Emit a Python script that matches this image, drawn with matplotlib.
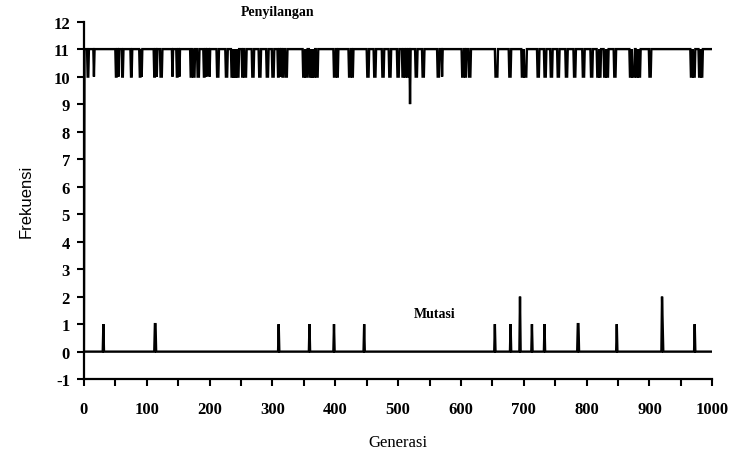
import numpy as np
import matplotlib
matplotlib.use("Agg")
import matplotlib.pyplot as plt
from matplotlib.ticker import MultipleLocator

plt.rcParams["axes.unicode_minus"] = False

# generations where crossover frequency dropped to 10 (start, end inclusive)
cx_dip_start = [6, 16, 51, 55, 61, 75, 89, 92, 112, 116, 122, 141, 148, 152, 170, 174,
                181, 191, 195, 200, 212, 226, 235, 238, 241, 244, 252, 256, 268, 279,
                291, 300, 309, 313, 316, 321, 349, 353, 359, 363, 366, 370, 398, 403,
                422, 427, 451, 462, 475, 486, 499, 507, 511, 515, 528, 539, 563, 570,
                602, 607, 613, 655, 677, 697, 701, 722, 733, 743, 754, 767, 780, 794,
                807, 817, 821, 828, 832, 844, 869, 873, 879, 883, 900, 966, 970, 979,
                983]
cx_dip_end = [7, 16, 52, 55, 62, 76, 90, 92, 113, 116, 124, 141, 149, 152, 171, 176,
              183, 192, 195, 200, 214, 228, 236, 239, 242, 246, 253, 258, 270, 281,
              293, 302, 310, 313, 317, 323, 351, 355, 361, 364, 367, 372, 400, 404,
              424, 428, 453, 464, 477, 488, 501, 508, 512, 516, 530, 541, 565, 570,
              604, 608, 615, 658, 679, 699, 704, 724, 735, 745, 756, 769, 782, 796,
              809, 819, 822, 830, 834, 846, 871, 876, 881, 885, 902, 968, 972, 981,
              984]
cx_deep_gen = [519]   # the one drop to 9

# mutation events
mut_gen = [31, 113, 114, 310, 359, 398, 446, 654, 679, 694, 713, 733, 786, 787,
           848, 920, 921, 972]
mut_val = [1, 1, 1, 1, 1, 1, 1, 1, 1, 2, 1, 1, 1, 1, 1, 2, 1, 1]

n_gen = 1000
gens = np.arange(0, n_gen + 1)

crossover = np.full(gens.size, 11)
crossover[0] = 0
for s, e in zip(cx_dip_start, cx_dip_end):
    crossover[s:e + 1] = 10
for g in cx_deep_gen:
    crossover[g] = 9

mutation = np.zeros(gens.size)
mutation[mut_gen] = mut_val

serif = "Liberation Serif"

fig = plt.figure(figsize=(7.49, 4.52), dpi=100)
ax = fig.add_axes([0.112, 0.159, 0.839, 0.791])

ax.plot(gens, crossover, color="black", lw=1.7, solid_joinstyle="miter")
ax.plot(gens, mutation, color="black", lw=1.7, solid_joinstyle="miter")

ax.set_xlim(0, n_gen)
ax.set_ylim(-1, 12)
ax.spines["top"].set_visible(False)
ax.spines["right"].set_visible(False)
for s in ("left", "bottom"):
    ax.spines[s].set_linewidth(1.6)

ax.xaxis.set_major_locator(MultipleLocator(100))
ax.xaxis.set_minor_locator(MultipleLocator(50))
ax.yaxis.set_major_locator(MultipleLocator(1))
ax.tick_params(axis="both", which="both", direction="out", length=5, width=1.5)
ax.tick_params(axis="x", pad=11)
ax.tick_params(axis="y", pad=5)
for lab in ax.get_xticklabels() + ax.get_yticklabels():
    lab.set_fontfamily(serif)
    lab.set_fontweight("bold")
    lab.set_fontsize(12)

ax.set_xlabel("Generasi", fontfamily=serif, fontsize=12, labelpad=12)
ax.set_ylabel("Frekuensi", fontfamily="Liberation Sans", fontsize=12, labelpad=14)

ax.text(309, 12.35, "Penyilangan", fontfamily=serif, fontweight="bold", fontsize=10,
        ha="center", va="center", clip_on=False)
ax.text(559, 1.37, "Mutasi", fontfamily=serif, fontweight="bold", fontsize=10,
        ha="center", va="center")

fig.savefig("out.png", dpi=100)
